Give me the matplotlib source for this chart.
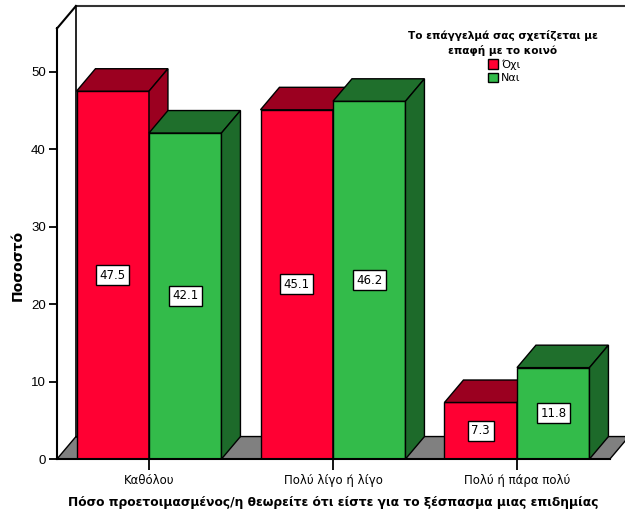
import matplotlib
matplotlib.use('Agg')
import matplotlib.pyplot as plt
from matplotlib.patches import Polygon, Patch

categories = ['Καθόλου', 'Πολύ λίγο ή λίγο', 'Πολύ ή πάρα πολύ']
series = ['Όχι', 'Ναι']
oxi = [47.5, 45.1, 7.3]
nai = [42.1, 46.2, 11.8]
yticks = [0, 10, 20, 30, 40, 50]

front_col = ['#ff0033', '#33bb4a']
top_col = ['#9b0020', '#1f6f2c']
side_col = ['#9b0020', '#1d6a2a']

W = 0.394      # bar width in category units
DX = 0.103     # depth shift, x
DY = 2.9       # depth shift, y (percent units)
YTOP = 58.5
XMAX = 2.587
XEND = 2.505

plt.rcParams['font.family'] = ['DejaVu Sans']

fig = plt.figure(figsize=(6.25, 5.13), dpi=100)
ax = fig.add_axes([57 / 625, 54 / 513, 568 / 625, 453 / 513])
ax.set_xlim(-0.5, XMAX)
ax.set_ylim(0, YTOP)

# floor
ax.add_patch(Polygon([(-0.5, 0), (XEND, 0), (XEND + DX, DY), (-0.5 + DX, DY)],
                     closed=True, fc='#808080', ec='black', lw=1, zorder=1, clip_on=False))

# back wall and side wall outline
ax.plot([-0.5 + DX, -0.5 + DX], [DY, YTOP], color='black', lw=1.2, zorder=1, clip_on=False)
ax.plot([-0.5 + DX, XMAX + 0.2], [YTOP, YTOP], color='#333333', lw=1.5, zorder=1, clip_on=False)
ax.plot([-0.5, -0.5 + DX], [YTOP - DY, YTOP], color='black', lw=1.5, zorder=1, clip_on=False)

for i, vals in enumerate([oxi, nai]):
    lefts = [c - W + i * W for c in range(len(categories))]
    z = 2 + i
    ax.bar(lefts, vals, width=W, align='edge', color=front_col[i],
           edgecolor='black', linewidth=1, zorder=z)
    for l, v in zip(lefts, vals):
        ax.add_patch(Polygon([(l, v), (l + W, v), (l + W + DX, v + DY), (l + DX, v + DY)],
                             closed=True, fc=top_col[i], ec='black', lw=1, zorder=z))
        ax.add_patch(Polygon([(l + W, 0), (l + W + DX, DY), (l + W + DX, v + DY), (l + W, v)],
                             closed=True, fc=side_col[i], ec='black', lw=1, zorder=z))
        ax.text(l + W / 2, v / 2, f'{v:.1f}', ha='center', va='center', fontsize=8.5,
                zorder=6, bbox=dict(boxstyle='square,pad=0.3', fc='white', ec='black', lw=1))

for s in ['top', 'right']:
    ax.spines[s].set_visible(False)
ax.spines['left'].set_bounds(0, YTOP - DY)
ax.spines['bottom'].set_bounds(-0.5, XEND)
ax.spines['left'].set_linewidth(1.5)
ax.spines['bottom'].set_linewidth(1.5)
ax.spines['left'].set_zorder(7)
ax.spines['bottom'].set_zorder(7)

ax.set_yticks(yticks)
ax.set_yticklabels([str(t) for t in yticks], family='Liberation Sans', fontsize=9.5)
ax.set_xticks(range(len(categories)))
ax.set_xticklabels(categories, fontsize=8.5)
ax.tick_params(axis='y', length=6, width=1.3, pad=2)
ax.tick_params(axis='x', length=8, width=1.3, pad=3)

ax.set_ylabel('Ποσοστό', fontsize=10, fontweight='bold')
ax.yaxis.set_label_coords(-0.057, 0.428)
ax.set_xlabel('Πόσο προετοιμασμένος/η θεωρείτε ότι είστε για το ξέσπασμα μιας επιδημίας',
              fontsize=8.8, fontweight='bold')
ax.xaxis.set_label_coords(0.486, -0.082)

fig.text(503 / 625, 1 - 43 / 513, 'Το επάγγελμά σας σχετίζεται με\nεπαφή με το κοινό',
         ha='center', va='center', fontsize=7.6, fontweight='bold', linespacing=1.55)
handles = [Patch(fc=front_col[0], ec='black'), Patch(fc=front_col[1], ec='black')]
fig.legend(handles, series, loc='upper left', bbox_to_anchor=(488 / 625, 1 - 59 / 513),
           frameon=False, borderpad=0, borderaxespad=0, handlelength=0.9, handleheight=1.0,
           handletextpad=0.3, labelspacing=0.25, fontsize=8)

fig.savefig('out.png', dpi=100)
